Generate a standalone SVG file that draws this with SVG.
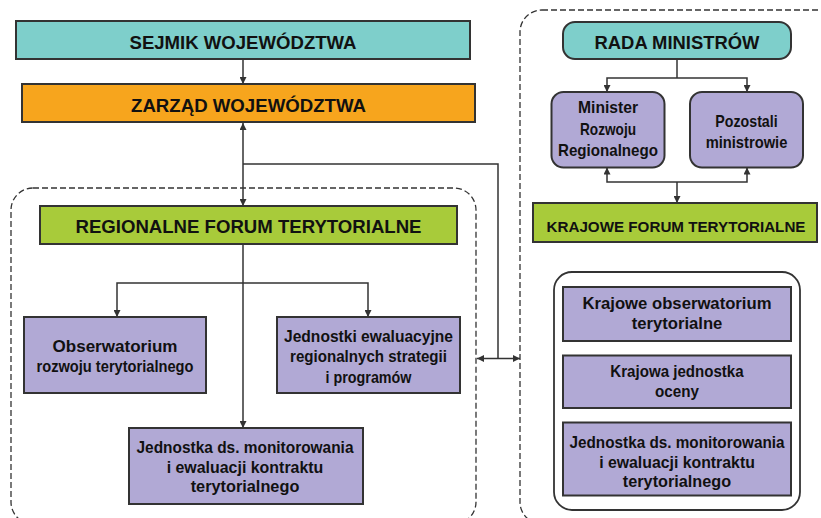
<svg xmlns="http://www.w3.org/2000/svg" width="821" height="518" viewBox="0 0 821 518">
<style>
text{font-family:"Liberation Sans",Arial,sans-serif;font-weight:bold;fill:#111;text-anchor:middle;}
.t{font-size:18px;}
.k{font-size:15.5px;}
.p{font-size:17px;}
.box{stroke:#333;stroke-width:2;}
.teal{fill:#7ECFCB;}
.orange{fill:#F7A51D;}
.green{fill:#A8CB3A;}
.purple{fill:#B1A9D5;}
.dash{fill:none;stroke:#333;stroke-width:1.3;stroke-dasharray:6,3;}
.frame{fill:#fff;stroke:#333;stroke-width:1.8;}
.c{fill:none;stroke:#333;stroke-width:1.5;}
</style>
<defs>
<marker id="ah" viewBox="0 0 8 8" refX="8" refY="4" markerWidth="7" markerHeight="7" markerUnits="userSpaceOnUse" orient="auto-start-reverse">
<path d="M0,0 L8,4 L0,8 z" fill="#333"/>
</marker>
</defs>
<rect width="821" height="518" fill="#fff"/>

<g id="containers">
<rect id="region-frame" class="dash" x="11" y="188" width="465" height="336" rx="22"/>
<rect id="national-frame" class="dash" x="520" y="10" width="330" height="514" rx="22"/>
<rect id="national-units-frame" class="frame" x="554" y="272" width="246" height="238" rx="18"/>
</g>

<g id="connectors">
<path class="c" d="M243,59 V84" marker-end="url(#ah)"/>
<path class="c" d="M243,123 V206" marker-start="url(#ah)" marker-end="url(#ah)"/>
<path class="c" d="M243,164 H498 V358.5"/>
<path class="c" d="M477,358.5 H520" marker-start="url(#ah)" marker-end="url(#ah)"/>
<path class="c" d="M243,244 V428" marker-end="url(#ah)"/>
<path class="c" d="M117,317 V283 H368 V317" marker-start="url(#ah)" marker-end="url(#ah)"/>
<path class="c" d="M677,59 V78"/>
<path class="c" d="M607,92 V78 H747 V92" marker-start="url(#ah)" marker-end="url(#ah)"/>
<path class="c" d="M607,167.5 V182 H747 V167.5" marker-start="url(#ah)" marker-end="url(#ah)"/>
<path class="c" d="M677,182 V203" marker-end="url(#ah)"/>
</g>

<g id="sejmik">
<rect class="box teal" x="16" y="21" width="454" height="38"/>
<text class="t" x="243" y="49" textLength="227" lengthAdjust="spacingAndGlyphs">SEJMIK WOJEWÓDZTWA</text>
</g>
<g id="zarzad">
<rect class="box orange" x="22" y="84" width="453" height="38"/>
<text class="t" x="248.5" y="111.5" textLength="235" lengthAdjust="spacingAndGlyphs">ZARZĄD WOJEWÓDZTWA</text>
</g>
<g id="regionalne-forum">
<rect class="box green" x="40" y="206" width="417" height="38"/>
<text class="t" x="248.5" y="233" textLength="346" lengthAdjust="spacingAndGlyphs">REGIONALNE FORUM TERYTORIALNE</text>
</g>
<g id="obserwatorium">
<rect class="box purple" x="24" y="317" width="182" height="76"/>
<text class="p" x="115" y="351.5" textLength="125" lengthAdjust="spacingAndGlyphs">Obserwatorium</text>
<text class="p" x="115" y="371.5" textLength="157" lengthAdjust="spacingAndGlyphs">rozwoju terytorialnego</text>
</g>
<g id="jednostki-ewaluacyjne">
<rect class="box purple" x="277" y="317" width="183" height="76"/>
<text class="p" x="368.5" y="341.7" textLength="169" lengthAdjust="spacingAndGlyphs">Jednostki ewaluacyjne</text>
<text class="p" x="368.5" y="362.3" textLength="157" lengthAdjust="spacingAndGlyphs">regionalnych strategii</text>
<text class="p" x="368.5" y="382.7" textLength="86" lengthAdjust="spacingAndGlyphs">i programów</text>
</g>
<g id="jednostka-regionalna">
<rect class="box purple" x="129" y="428" width="234" height="76"/>
<text class="p" x="245" y="452.5" textLength="217" lengthAdjust="spacingAndGlyphs">Jednostka ds. monitorowania</text>
<text class="p" x="245" y="472.5" textLength="156.7" lengthAdjust="spacingAndGlyphs">i ewaluacji kontraktu</text>
<text class="p" x="245" y="491.7" textLength="108.7" lengthAdjust="spacingAndGlyphs">terytorialnego</text>
</g>

<g id="rada-ministrow">
<rect class="box teal" x="563" y="22" width="228" height="37" rx="12"/>
<text class="t" x="677" y="49" textLength="165" lengthAdjust="spacingAndGlyphs">RADA MINISTRÓW</text>
</g>
<g id="minister-rr">
<rect class="box purple" x="551.5" y="92" width="113" height="75.5" rx="12"/>
<text class="p" x="608" y="113" textLength="60" lengthAdjust="spacingAndGlyphs">Minister</text>
<text class="p" x="608" y="135" textLength="56" lengthAdjust="spacingAndGlyphs">Rozwoju</text>
<text class="p" x="608" y="155.5" textLength="100" lengthAdjust="spacingAndGlyphs">Regionalnego</text>
</g>
<g id="pozostali">
<rect class="box purple" x="690" y="92" width="113" height="75.5" rx="12"/>
<text class="p" x="746.5" y="126.5" textLength="62.3" lengthAdjust="spacingAndGlyphs">Pozostali</text>
<text class="p" x="746.5" y="148" textLength="81.7" lengthAdjust="spacingAndGlyphs">ministrowie</text>
</g>
<g id="krajowe-forum">
<rect class="box green" x="533" y="203" width="284" height="39"/>
<text class="k" x="676" y="231.5" textLength="259" lengthAdjust="spacingAndGlyphs">KRAJOWE FORUM TERYTORIALNE</text>
</g>
<g id="krajowe-obserwatorium">
<rect class="box purple" x="563" y="287" width="228" height="54"/>
<text class="p" x="677" y="308.5" textLength="189" lengthAdjust="spacingAndGlyphs">Krajowe obserwatorium</text>
<text class="p" x="677" y="329.3" textLength="90.7" lengthAdjust="spacingAndGlyphs">terytorialne</text>
</g>
<g id="krajowa-jednostka">
<rect class="box purple" x="563" y="355.5" width="228" height="52.5"/>
<text class="p" x="677" y="376.7" textLength="133.3" lengthAdjust="spacingAndGlyphs">Krajowa jednostka</text>
<text class="p" x="677" y="396.7" textLength="44" lengthAdjust="spacingAndGlyphs">oceny</text>
</g>
<g id="jednostka-krajowa">
<rect class="box purple" x="563" y="422.5" width="228" height="73"/>
<text class="p" x="677" y="448.3" textLength="215" lengthAdjust="spacingAndGlyphs">Jednostka ds. monitorowania</text>
<text class="p" x="677" y="467.7" textLength="155.7" lengthAdjust="spacingAndGlyphs">i ewaluacji kontraktu</text>
<text class="p" x="677" y="486.7" textLength="108.3" lengthAdjust="spacingAndGlyphs">terytorialnego</text>
</g>
</svg>
